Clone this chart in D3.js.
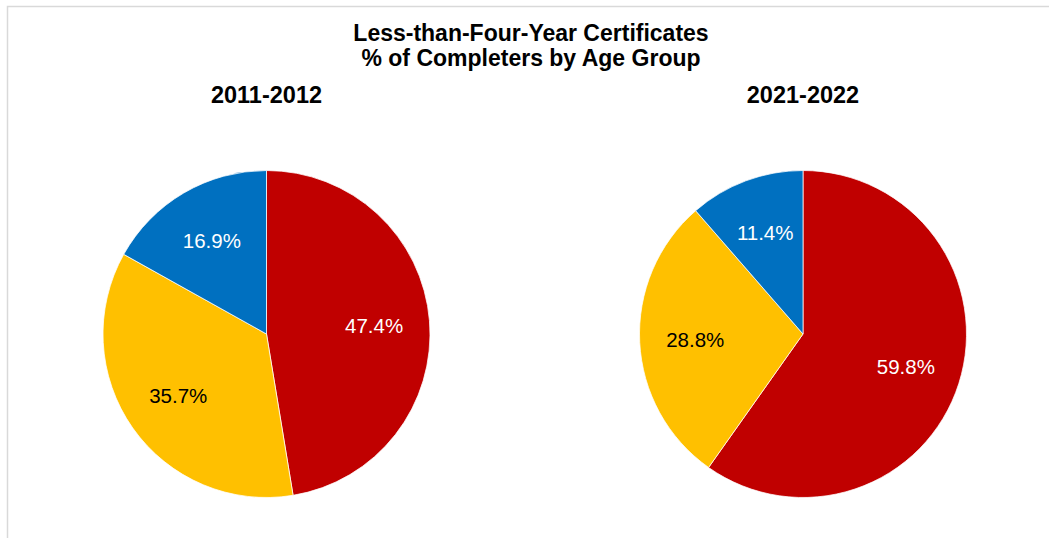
<!DOCTYPE html>
<html><head><meta charset="utf-8">
<script src="https://cdn.jsdelivr.net/npm/d3@7"></script>
<style>body{margin:0;background:#fff}svg{display:block;font-family:"Liberation Sans",Arial,sans-serif}</style>
</head><body><svg id="c" width="1049" height="538"></svg>
<script>
const categories = ["Group A", "Group B", "Group C"];
const years = ["2011-2012", "2021-2022"];
const values2011 = [47.4, 35.7, 16.9];
const values2021 = [59.8, 28.8, 11.4];
const colors = ["#C00000", "#FFC000", "#0070C0"];
const labelColors = ["#ffffff", "#000000", "#ffffff"];
const titleLines = ["Less-than-Four-Year Certificates", "% of Completers by Age Group"];

const svg = d3.select("#c");
svg.append("path").attr("d","M7.5,540V6.5H1050").attr("fill","none").attr("stroke","#d9d9d9").attr("stroke-width",1.5);

svg.selectAll("text.title").data(titleLines).join("text").attr("class","title")
  .attr("x",531).attr("y",(d,i)=>41+i*25).attr("text-anchor","middle")
  .attr("font-size",23).attr("font-weight","bold").attr("fill","#000").text(d=>d);

const series = [values2011, values2021];
const centers = [[266.5,334],[803,334]];
const R = 163.5;
const pie = d3.pie().sort(null).value(d=>d);
const arc = d3.arc().innerRadius(0).outerRadius(R);
const labelArc = d3.arc().innerRadius(R*0.66).outerRadius(R*0.66);

series.forEach((vals, k) => {
  const g = svg.append("g").attr("transform",`translate(${centers[k][0]},${centers[k][1]})`);
  svg.append("text").attr("x",centers[k][0]).attr("y",103).attr("text-anchor","middle")
    .attr("font-size",23.5).attr("font-weight","bold").text(years[k]);
  const arcs = pie(vals);
  g.selectAll("path").data(arcs).join("path").attr("d",arc)
    .attr("fill",(d,i)=>colors[i]).attr("stroke","#fff").attr("stroke-width",0.75);
  g.selectAll("text").data(arcs).join("text")
    .attr("transform",d=>`translate(${labelArc.centroid(d)})`)
    .attr("text-anchor","middle").attr("dy","0.36em").attr("font-size",20.5)
    .attr("fill",(d,i)=>labelColors[i]).text(d=>d.data.toFixed(1)+"%");
});
</script></body></html>
